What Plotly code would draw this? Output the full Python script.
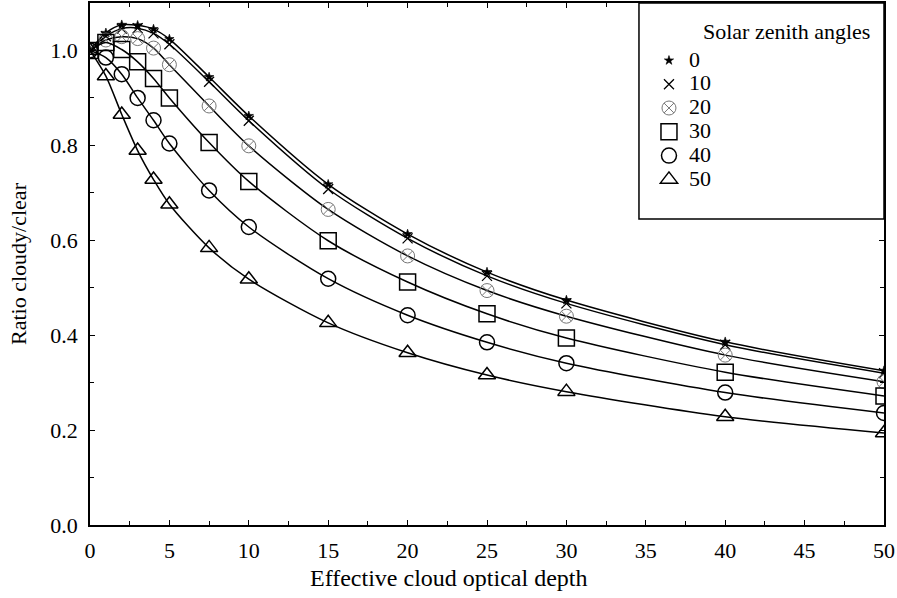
import plotly.graph_objects as go

tau = [0, 1, 2, 3, 4, 5, 7.5, 10, 15, 20, 25, 30, 40, 50]
angles = ["0", "10", "20", "30", "40", "50"]
r0 = [1.0, 1.037, 1.054, 1.053, 1.045, 1.024, 0.944, 0.862, 0.718, 0.613, 0.533, 0.474, 0.386, 0.325]
r10 = [1.0, 1.030, 1.046, 1.047, 1.036, 1.013, 0.934, 0.852, 0.708, 0.604, 0.525, 0.467, 0.380, 0.320]
r20 = [1.0, 1.022, 1.029, 1.025, 1.005, 0.970, 0.883, 0.799, 0.665, 0.567, 0.494, 0.440, 0.358, 0.302]
r30 = [1.0, 1.017, 1.002, 0.976, 0.941, 0.900, 0.806, 0.724, 0.599, 0.512, 0.445, 0.394, 0.322, 0.272]
r40 = [1.0, 0.985, 0.950, 0.900, 0.853, 0.804, 0.705, 0.628, 0.519, 0.442, 0.385, 0.341, 0.279, 0.236]
r50 = [1.0, 0.946, 0.865, 0.789, 0.728, 0.676, 0.584, 0.518, 0.426, 0.363, 0.316, 0.281, 0.228, 0.194]
series = [r0, r10, r20, r30, r40, r50]

symbols = ["star", "x-thin-open", "circle-x-open", "square-open", "circle-open", "triangle-up-open"]
sizes = [7, 10, 14, 16, 15, 15]
mcolors = ["black", "black", "#777777", "black", "black", "black"]
mwidths = [0.6, 1.3, 1.0, 1.5, 1.5, 1.5]

FONT = "Liberation Serif"

fig = go.Figure()
for name, ys, sym, sz, mc, mw in zip(angles, series, symbols, sizes, mcolors, mwidths):
    fig.add_trace(go.Scatter(x=tau, y=ys, mode="lines",
                             line=dict(color="black", width=1.5, shape="spline", smoothing=0.8),
                             showlegend=False, hoverinfo="skip"))
    fig.add_trace(go.Scatter(x=tau, y=ys, mode="markers",
                             name="<span style='font-size:22px'>" + name + "</span>",
                             marker=dict(symbol=sym, size=sz, color=mc,
                                         line=dict(color=mc, width=mw))))

axis_common = dict(showline=True, linecolor="black", linewidth=1.5, mirror="allticks",
                   ticks="inside", ticklen=5, tickwidth=1.2, tickcolor="black",
                   showgrid=False, zeroline=False,
                   tickfont=dict(family=FONT, size=22, color="black"))

fig.update_xaxes(range=[0, 50], tick0=0, dtick=5, ticklabelstandoff=5,
                 minor=dict(ticks="inside", dtick=2.5, ticklen=4, tickcolor="black", tickwidth=1.2),
                 **axis_common)
fig.update_yaxes(range=[0, 1.1], tick0=0, dtick=0.2, tickformat=".1f", ticklabelstandoff=6,
                 minor=dict(ticks="inside", dtick=0.1, ticklen=4, tickcolor="black", tickwidth=1.2),
                 title=dict(text="Ratio cloudy/clear", font=dict(family=FONT, size=22, color="black"), standoff=18),
                 **axis_common)

# legend frame (paper coordinates)
fig.add_shape(type="rect", xref="paper", yref="paper", x0=0.6914, x1=1.0, y0=0.586, y1=1.0,
              line=dict(color="black", width=1.5), fillcolor="white", layer="above")

fig.add_annotation(text="Solar zenith angles", xref="paper", yref="paper", x=0.770, y=0.9462,
                   xanchor="left", yanchor="middle", showarrow=False,
                   font=dict(family=FONT, size=22, color="black"))
fig.add_annotation(text="Effective cloud optical depth", xref="paper", yref="paper", x=0.451, y=-0.101,
                   xanchor="center", yanchor="middle", showarrow=False,
                   font=dict(family=FONT, size=24, color="black"))

fig.update_layout(
    width=897, height=598,
    margin=dict(l=90, r=13, t=1, b=73),
    paper_bgcolor="white", plot_bgcolor="white",
    font=dict(family=FONT, size=22, color="black"),
    legend=dict(x=0.704, y=0.9224, xanchor="left", yanchor="top",
                bgcolor="rgba(0,0,0,0)", borderwidth=0,
                font=dict(family=FONT, size=16, color="black"),
                tracegroupgap=0, itemsizing="trace"),
)

fig.write_html("out.html")
